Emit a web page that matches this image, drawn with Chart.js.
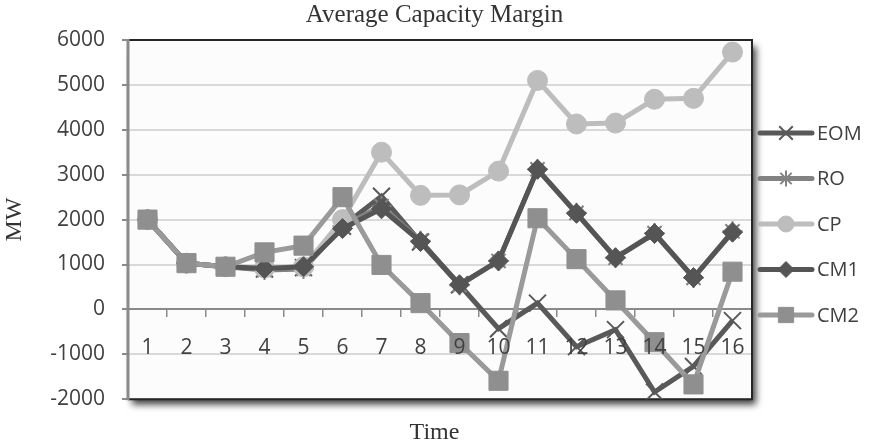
<!DOCTYPE html>
<html><head><meta charset="utf-8">
<script src="https://cdn.jsdelivr.net/npm/chart.js@4.4.1/dist/chart.umd.min.js"></script>
<style>html,body{margin:0;padding:0;background:#fff;}#wrap{width:869px;height:447px;}</style>
</head><body><div id="wrap"><canvas id="c" width="869" height="447"></canvas></div>
<script>
const categories = ['1','2','3','4','5','6','7','8','9','10','11','12','13','14','15','16'];
const seriesNames = ['EOM','RO','CP','CM1','CM2'];
const eom = [2000,1030,950,900,930,1850,2520,1500,550,-430,140,-830,-450,-1840,-1270,-250];
const ro  = [2000,1030,950,880,900,1850,2300,1530,540,1080,3120,2150,1150,1700,700,1740];
const cp  = [2000,1030,950,920,950,2000,3500,2540,2550,3080,5100,4130,4150,4680,4700,5730];
const cm1 = [2000,1030,950,910,950,1800,2240,1510,550,1080,3120,2140,1150,1690,710,1720];
const cm2 = [2000,1030,950,1270,1420,2500,990,140,-750,-1590,2030,1120,200,-730,-1670,840];
const yTicks = [-2000,-1000,0,1000,2000,3000,4000,5000,6000];

const tickFont = {family:'Open Sans', size:21};

const frame = {
  id:'frame',
  beforeDraw(chart){
    const {ctx, chartArea:a} = chart;
    ctx.save();
    ctx.shadowColor='rgba(0,0,0,0.75)';
    ctx.shadowBlur=7; ctx.shadowOffsetX=4; ctx.shadowOffsetY=6;
    ctx.fillStyle='#fcfcfc';
    ctx.fillRect(a.left,a.top,a.right-a.left,a.bottom-a.top);
    ctx.restore();
  },
  beforeDatasetsDraw(chart){
    const {ctx, chartArea:a} = chart;
    ctx.save();
    ctx.strokeStyle='#262626'; ctx.lineWidth=2;
    ctx.beginPath();
    ctx.moveTo(a.left,a.top); ctx.lineTo(a.right,a.top); ctx.lineTo(a.right,a.bottom); ctx.lineTo(a.left,a.bottom);
    ctx.stroke();
    ctx.strokeStyle='#8a8a8a'; ctx.lineWidth=3;
    ctx.beginPath(); ctx.moveTo(a.left,a.top-1); ctx.lineTo(a.left,a.bottom+1); ctx.stroke();
    ctx.restore();
  }
};

const legendPlugin = {
  id:'sideLegend',
  afterDraw(chart){
    const {ctx, chartArea:a} = chart;
    ctx.save();
    chart.data.datasets.forEach((ds,i)=>{
      const y = a.top + 93 + i*45.5;
      const x0 = a.right + 8, x1 = a.right + 60;
      ctx.strokeStyle = ds.borderColor; ctx.lineWidth = ds.borderWidth; ctx.lineCap='round';
      ctx.beginPath(); ctx.moveTo(x0,y); ctx.lineTo(x1,y); ctx.stroke();
      ctx.lineCap='butt';
      ctx.fillStyle = ds.pointBackgroundColor; ctx.strokeStyle = ds.pointBorderColor;
      ctx.lineWidth = ds.pointBorderWidth;
      Chart.helpers.drawPoint(ctx,{pointStyle:ds.pointStyle,radius:ds.pointRadius*0.8,borderWidth:ds.pointBorderWidth,rotation:0},(x0+x1)/2,y);
      ctx.fillStyle='#404040'; ctx.font='20px "Open Sans"'; ctx.textBaseline='middle'; ctx.textAlign='left';
      ctx.fillText(ds.label, x1+5, y+1);
    });
    ctx.restore();
  }
};

function ds(label, data, color, style, radius, order, markerColor){
  return {label, data, borderColor:color, borderWidth:5, pointStyle:style, pointRadius:radius,
    pointHoverRadius:radius, pointBackgroundColor:markerColor||color, pointBorderColor:markerColor||color,
    pointBorderWidth:(style==='crossRot'||style==='star')?2:1, order, tension:0, fill:false, yAxisID:'y'};
}

new Chart(document.getElementById('c'),{
  type:'line',
  data:{labels:categories, datasets:[
    ds(seriesNames[0], eom, '#595959','crossRot',12,4),
    ds(seriesNames[1], ro, '#828282','star',10,3),
    ds(seriesNames[2], cp, '#bdbdbd','circle',10,2),
    ds(seriesNames[3], cm1, '#555555','rectRot',10,1),
    ds(seriesNames[4], cm2, '#9a9a9a','rect',13.5,0,'#8f8f8f')
  ]},
  plugins:[frame, legendPlugin],
  options:{
    responsive:false, animation:false, devicePixelRatio:1,
    layout:{padding:{left:0,right:0,top:0,bottom:0}},
    plugins:{
      legend:{display:false}, tooltip:{enabled:false},
      title:{display:true, text:'Average Capacity Margin', color:'#333333',
        font:{family:'Liberation Serif', size:25, weight:'normal'}, padding:{top:0,bottom:10}},
      subtitle:{display:true, position:'bottom', text:'Time', color:'#333333',
        font:{family:'Liberation Serif', size:24, weight:'normal'}, padding:{top:19,bottom:0}}
    },
    scales:{
      x:{type:'category', position:{y:0}, offset:true,
        grid:{display:true, drawOnChartArea:false, drawTicks:true, tickLength:7, offset:true, color:'#8a8a8a', lineWidth:1.5},
        border:{display:true, color:'#8a8a8a', width:2},
        ticks:{z:1, font:tickFont, color:'#404040', padding:19, maxRotation:0, autoSkip:false}},
      y:{min:-2000, max:6000, afterBuildTicks(s){ s.ticks = yTicks.map(v=>({value:v})); },
        afterFit(s){ s.width = 128; },
        grid:{color:(c)=> c.tick && c.tick.value===0 ? '#9a9a9a' : '#d9d9d9', lineWidth:2, tickLength:6, tickColor:'#8a8a8a', drawTicks:true},
        border:{display:false},
        ticks:{font:tickFont, color:'#404040', padding:17, callback:(v)=>String(v)},
        title:{display:true, text:'MW', color:'#333333', font:{family:'Liberation Serif', size:24, weight:'normal'}, padding:{top:0,bottom:0}}},
      legendSpace:{type:'linear', position:'right', min:0, max:1,
        afterFit(s){ s.width = 117; },
        grid:{display:false, drawOnChartArea:false}, border:{display:false},
        ticks:{display:false}}
    }
  }
});
</script></body></html>
